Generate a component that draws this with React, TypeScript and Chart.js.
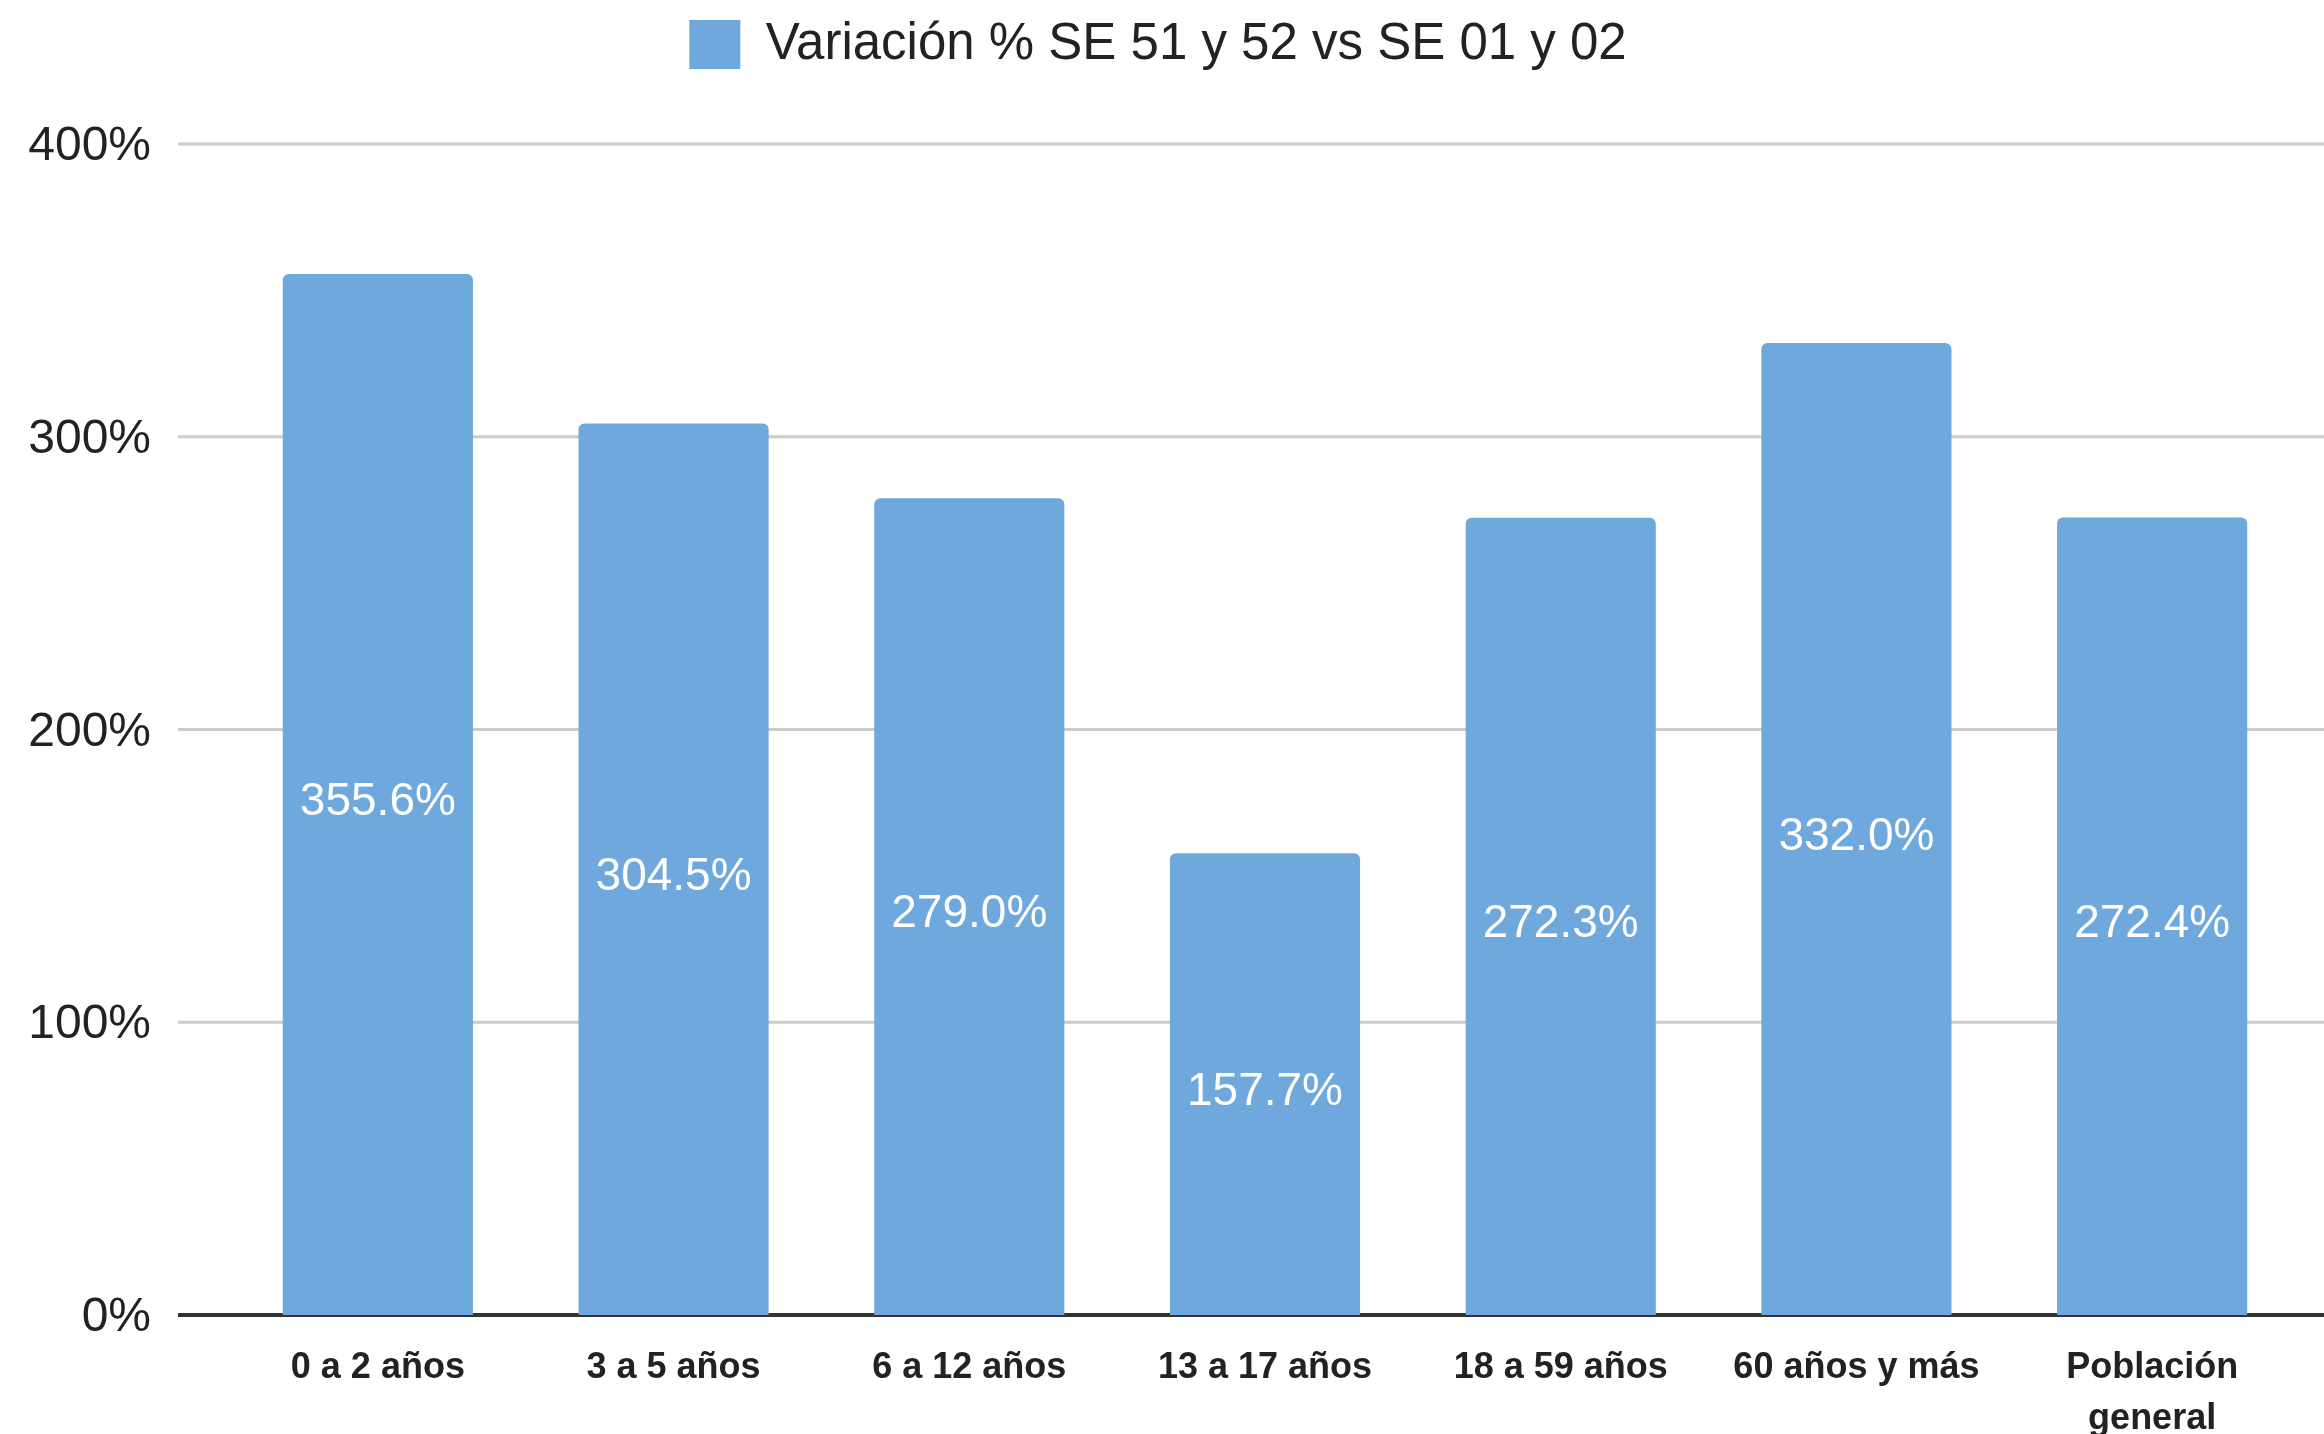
import React, { useEffect, useRef } from "react";
import { Chart, registerables } from "chart.js";

Chart.register(...registerables);

const categories: (string | string[])[] = [
  "0 a 2 años",
  "3 a 5 años",
  "6 a 12 años",
  "13 a 17 años",
  "18 a 59 años",
  "60 años y más",
  ["Población", "general"],
];
const seriesLabel = "Variación % SE 51 y 52 vs SE 01 y 02";
const values = [355.6, 304.5, 279.0, 157.7, 272.3, 332.0, 272.4];
const yTicks = [0, 100, 200, 300, 400];

const FONT = "'Liberation Sans', Arial, sans-serif";
const BAR = "#6fa8dc";

export default function App() {
  const ref = useRef<HTMLCanvasElement>(null);
  useEffect(() => {
    document.body.style.margin = "0";
    const canvas = ref.current!;
    const legendMargin = {
      id: "legendMargin",
      beforeInit(chart: any) {
        const lg = chart.legend;
        if (!lg) return;
        const fit = lg.fit;
        lg.fit = function () {
          fit.bind(lg)();
          this.height += 64;
        };
      },
    };
    const gridPlugin = {
      id: "fullGrid",
      beforeDatasetsDraw(chart: any) {
        const ctx = chart.ctx;
        const y = chart.scales.y;
        ctx.save();
        yTicks.forEach((t) => {
          const py = y.getPixelForValue(t);
          ctx.beginPath();
          if (t === 0) {
            ctx.strokeStyle = "#333333";
            ctx.lineWidth = 4;
          } else {
            ctx.strokeStyle = "#cccccc";
            ctx.lineWidth = 3;
          }
          ctx.moveTo(178, py);
          ctx.lineTo(chart.width, py);
          ctx.stroke();
        });
        ctx.restore();
      },
      afterDatasetsDraw(chart: any) {
        const ctx = chart.ctx;
        const meta = chart.getDatasetMeta(0);
        ctx.save();
        ctx.fillStyle = "#ffffff";
        ctx.font = `46px ${FONT}`;
        ctx.textAlign = "center";
        ctx.textBaseline = "middle";
        meta.data.forEach((el: any, i: number) => {
          const cy = (el.y + el.base) / 2 + 8;
          ctx.fillText(values[i].toFixed(1) + "%", el.x, cy);
        });
        ctx.restore();
      },
    };
    const chart = new Chart(canvas, {
      type: "bar",
      data: {
        labels: categories,
        datasets: [
          {
            label: seriesLabel,
            data: values,
            backgroundColor: BAR,
            borderRadius: { topLeft: 6, topRight: 6, bottomLeft: 0, bottomRight: 0 },
            borderSkipped: "bottom",
            barPercentage: 0.643,
            categoryPercentage: 1,
          },
        ],
      },
      options: {
        responsive: false,
        animation: false,
        layout: { padding: { left: 16, right: 24, top: 19, bottom: 0 } },
        plugins: {
          tooltip: { enabled: false },
          legend: {
            position: "top",
            labels: {
              boxWidth: 51,
              boxHeight: 49,
              color: "#222222",
              font: { family: FONT, size: 51 },
              padding: 0,
            },
          },
        },
        scales: {
          x: {
            grid: { display: false },
            border: { display: false },
            ticks: {
              color: "#222222",
              font: { family: FONT, size: 36, weight: "bold", lineHeight: 1.4 },
              padding: 20,
              maxRotation: 0,
              autoSkip: false,
            },
            afterFit: (s: any) => {
              s.height = 119;
            },
          },
          y: {
            min: 0,
            max: 400,
            grid: { display: false },
            border: { display: false },
            ticks: {
              stepSize: 100,
              color: "#222222",
              font: { family: FONT, size: 48 },
              padding: 71,
              labelOffset: 3,
              callback: (v: any) => v + "%",
            },
            afterFit: (s: any) => {
              s.width = 214;
            },
          },
        },
      },
      plugins: [legendMargin, gridPlugin],
    } as any);
    return () => chart.destroy();
  }, []);
  return <canvas ref={ref} width={2324} height={1434} style={{ display: "block" }} />;
}
